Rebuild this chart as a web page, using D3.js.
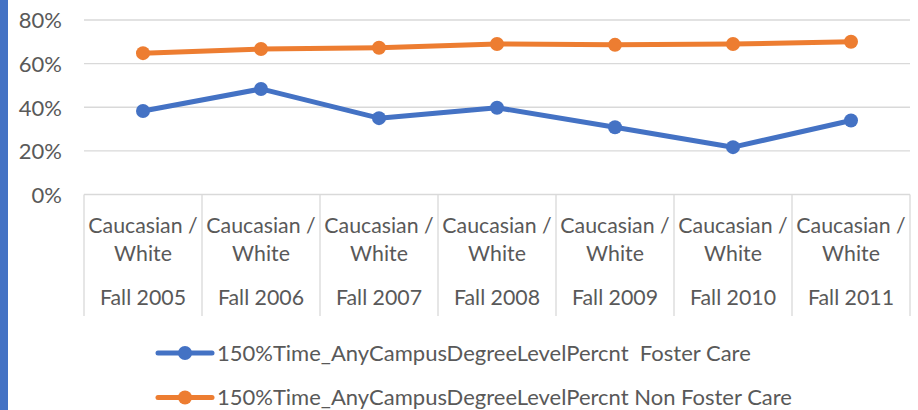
<!DOCTYPE html>
<html><head><meta charset="utf-8">
<script src="https://cdn.jsdelivr.net/npm/d3@7"></script>
<style>html,body{margin:0;padding:0;background:#fff;}svg{display:block;font-family:Lato,"Open Sans",sans-serif;}</style>
</head><body><svg id="c" width="918" height="410"></svg>
<script>
const categoriesTop = ["Caucasian /","Caucasian /","Caucasian /","Caucasian /","Caucasian /","Caucasian /","Caucasian /"];
const categoriesMid = ["White","White","White","White","White","White","White"];
const categoriesYear = ["Fall 2005","Fall 2006","Fall 2007","Fall 2008","Fall 2009","Fall 2010","Fall 2011"];
const fosterCare = [0.383, 0.484, 0.350, 0.398, 0.308, 0.217, 0.339];
const nonFosterCare = [0.648, 0.667, 0.673, 0.690, 0.686, 0.690, 0.700];
const yTicks = [0, 0.2, 0.4, 0.6, 0.8];
const seriesNames = ["150%Time_AnyCampusDegreeLevelPercnt  Foster Care","150%Time_AnyCampusDegreeLevelPercnt Non Foster Care"];
const colors = ["#4472C4","#ED7D31"];

(function(){
const svg = d3.select("#c");
svg.append("rect").attr("x",0).attr("y",0).attr("width",8).attr("height",410).attr("fill","#4472C4");

const pLeft=84, pRight=910, pTop=20, pBottom=194.5;
const x = d3.scaleBand().domain(categoriesYear).range([pLeft,pRight]).padding(0);
const y = d3.scaleLinear().domain([0,0.8]).range([pBottom,pTop]);

svg.append("g").selectAll("line").data(yTicks.filter(d=>d>0)).join("line")
  .attr("x1",pLeft).attr("x2",pRight).attr("y1",d=>y(d)).attr("y2",d=>y(d))
  .attr("stroke","#D9D9D9").attr("stroke-width",1.3);

const yAxis = d3.axisLeft(y).tickValues(yTicks).tickFormat(d3.format(".0%")).tickSize(0).tickPadding(22);
const ya = svg.append("g").attr("transform",`translate(${pLeft},0)`).call(yAxis);
ya.select(".domain").remove();
ya.attr("font-size",null).attr("font-family",null);
ya.selectAll("text").attr("font-size",22).attr("fill","#595959").attr("dy","0.36em");

const g = svg.append("g");
g.append("line").attr("x1",pLeft).attr("x2",pRight).attr("y1",pBottom).attr("y2",pBottom).attr("stroke","#D9D9D9").attr("stroke-width",1.3);
const bounds = categoriesYear.map(c=>x(c)).concat([pRight]);
g.selectAll("line.sep").data(bounds).join("line").attr("class","sep")
  .attr("x1",d=>d).attr("x2",d=>d).attr("y1",pBottom).attr("y2",316)
  .attr("stroke","#D9D9D9").attr("stroke-width",1.3);
const lab = g.selectAll("g.lab").data(categoriesYear).join("g").attr("class","lab")
  .attr("transform",d=>`translate(${x(d)+x.bandwidth()/2},0)`);
lab.append("text").attr("y",233).text((d,i)=>categoriesTop[i]);
lab.append("text").attr("y",261).text((d,i)=>categoriesMid[i]);
lab.append("text").attr("y",305).text(d=>d);
lab.selectAll("text").attr("text-anchor","middle").attr("font-size",21.3).attr("fill","#595959");

const series = [fosterCare, nonFosterCare];
const line = d3.line().x((d,i)=>x(categoriesYear[i])+x.bandwidth()/2).y(d=>y(d));
series.forEach((s,k)=>{
  svg.append("path").datum(s).attr("d",line).attr("fill","none").attr("stroke",colors[k])
    .attr("stroke-width",5).attr("stroke-linejoin","round").attr("stroke-linecap","round");
  svg.append("g").selectAll("circle").data(s).join("circle")
    .attr("cx",(d,i)=>x(categoriesYear[i])+x.bandwidth()/2).attr("cy",d=>y(d)).attr("r",7).attr("fill",colors[k]);
});

const lg = svg.append("g");
const rows = [353, 397.5];
seriesNames.forEach((n,k)=>{
  const r = lg.append("g").attr("transform",`translate(0,${rows[k]})`);
  r.append("line").attr("x1",158).attr("x2",212).attr("y1",0).attr("y2",0).attr("stroke",colors[k]).attr("stroke-width",5).attr("stroke-linecap","round");
  r.append("circle").attr("cx",185).attr("cy",0).attr("r",7).attr("fill",colors[k]);
  r.append("text").attr("x",217).attr("y",7.5).attr("font-size",22).attr("fill","#595959").style("white-space","pre").text(n);
});
})();
</script></body></html>
